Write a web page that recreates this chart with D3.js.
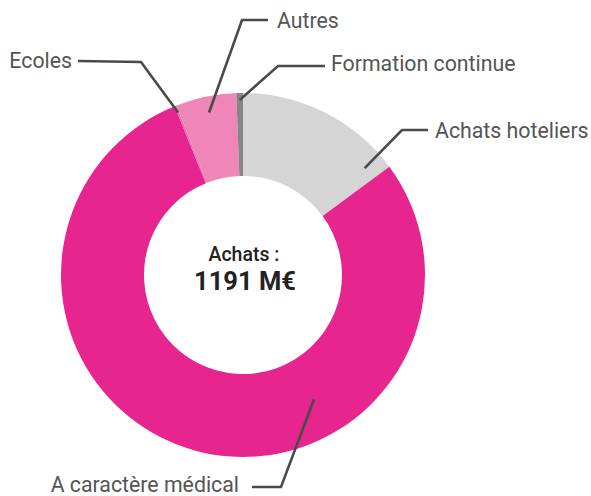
<!DOCTYPE html>
<html>
<head>
<meta charset="utf-8">
<script src="https://cdn.jsdelivr.net/npm/d3@7"></script>
<style>
  html, body { margin: 0; padding: 0; background: #fff; }
  svg { display: block; }
</style>
</head>
<body>
<svg id="chart" width="591" height="496"></svg>
<script>
// ---- Data (M€) ----
const categories = ["Achats hoteliers", "A caractère médical", "Ecoles", "Autres", "Formation continue"];
const values = [177, 941, 2, 64, 7];
const centerTitle = "Achats :";
const centerValue = "1191 M€";

// ---- Styles / layout ----
const colors = ["#d5d5d5", "#e6258f", "#f06aae", "#ee87b7", "#858585"];
const cx = 243, cy = 275, rOuter = 182, rInner = 99;

const leaders = [
  { r: 162, frac: 0.91, elbow: [402, 130], end: [428, 130], text: [435, 138], anchor: "start" },
  { r: 143, frac: 0.34, elbow: [281, 487], end: [252, 487], text: [239, 492], anchor: "end" },
  { r: 175, frac: 0.5, elbow: [141, 62], end: [78, 61], text: [72, 68], anchor: "end" },
  { r: 166, frac: 0.5, elbow: [242, 20], end: [268, 20], text: [277, 28], anchor: "start" },
  { r: 175, frac: 0.5, elbow: [278, 66], end: [325, 66], text: [331, 71], anchor: "start" }
];

const svg = d3.select("#chart");
const g = svg.append("g").attr("transform", `translate(${cx},${cy})`);

const pie = d3.pie().sort(null).value(d => d.v).startAngle(0).endAngle(2 * Math.PI);
const data = categories.map((c, i) => ({ c, v: values[i], i }));
const arcs = pie(data);
const arc = d3.arc().innerRadius(rInner).outerRadius(rOuter);

g.selectAll("path.slice").data(arcs).enter().append("path")
  .attr("class", "slice")
  .attr("d", arc)
  .attr("fill", d => colors[d.data.i]);

arcs.forEach(a => {
  const L = leaders[a.data.i];
  const ang = a.startAngle + (a.endAngle - a.startAngle) * L.frac;
  const ax = cx + L.r * Math.sin(ang);
  const ay = cy - L.r * Math.cos(ang);
  svg.append("polyline")
    .attr("points", [[ax, ay], L.elbow, L.end].map(p => p.join(",")).join(" "))
    .attr("fill", "none")
    .attr("stroke", "#4a4a4a")
    .attr("stroke-width", 2.6);
  svg.append("text")
    .attr("x", L.text[0]).attr("y", L.text[1])
    .attr("text-anchor", L.anchor)
    .attr("font-family", "Roboto, 'DejaVu Sans', sans-serif")
    .attr("font-size", 21.3)
    .attr("font-weight", 400)
    .attr("fill", "#555")
    .text(a.data.c);
});

svg.append("text")
  .attr("x", 244).attr("y", 261)
  .attr("text-anchor", "middle")
  .attr("font-family", "Roboto, 'DejaVu Sans', sans-serif")
  .attr("font-size", 19.5)
  .attr("font-weight", 500)
  .attr("fill", "#222")
  .text(centerTitle);
svg.append("text")
  .attr("x", 245).attr("y", 290)
  .attr("text-anchor", "middle")
  .attr("font-family", "Roboto, 'DejaVu Sans', sans-serif")
  .attr("font-size", 25.5)
  .attr("font-weight", 700)
  .attr("fill", "#222")
  .text(centerValue);
</script>
</body>
</html>
